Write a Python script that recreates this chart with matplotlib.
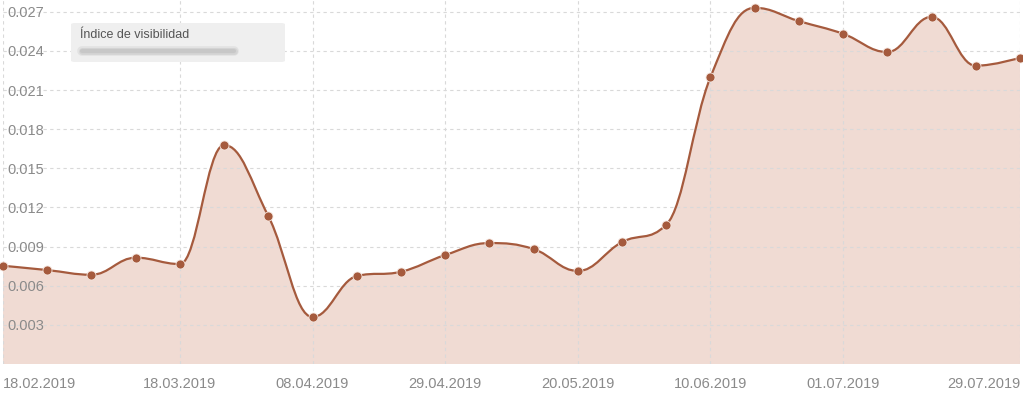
import matplotlib.pyplot as plt
import matplotlib.dates as mdates
import numpy as np
from matplotlib.path import Path
from matplotlib.patches import PathPatch, FancyBboxPatch

plt.rcParams['font.family'] = ['Liberation Sans', 'DejaVu Sans']

# weekly visibility index values
dates = np.arange(np.datetime64('2019-02-18'), np.datetime64('2019-08-05'), np.timedelta64(7, 'D'))
values = [0.00753, 0.00720, 0.00684, 0.00815, 0.00766, 0.01678, 0.01134, 0.00360,
          0.00674, 0.00707, 0.00835, 0.00927, 0.00881, 0.00713, 0.00935, 0.01067,
          0.02199, 0.02730, 0.02628, 0.02531, 0.02391, 0.02661, 0.02286, 0.02347]
tick_dates = ['2019-02-18', '2019-03-18', '2019-04-08', '2019-04-29',
              '2019-05-20', '2019-06-10', '2019-07-01', '2019-07-29']
y_ticks = [0.003, 0.006, 0.009, 0.012, 0.015, 0.018, 0.021, 0.024, 0.027]
legend_title = "Índice de visibilidad"

line_col = "#a55a3d"
fill_col = "#f0dbd3"
text_col = "#8a8a8a"
grid_col = "#d9d9d9"

x = mdates.date2num(dates.astype('datetime64[D]').astype(object))
y = np.array(values)


# Highcharts style spline -> bezier path
def spline_path(xs, ys, smoothing=1.5):
    denom = smoothing + 1
    n = len(xs)
    lc = [(xs[i], ys[i]) for i in range(n)]
    rc = [(xs[i], ys[i]) for i in range(n)]
    for i in range(1, n - 1):
        px, py = xs[i], ys[i]
        lx, ly = xs[i - 1], ys[i - 1]
        nx, ny = xs[i + 1], ys[i + 1]
        lcx = (smoothing * px + lx) / denom
        lcy = (smoothing * py + ly) / denom
        rcx = (smoothing * px + nx) / denom
        rcy = (smoothing * py + ny) / denom
        if rcx != lcx:
            corr = ((rcy - lcy) * (rcx - px)) / (rcx - lcx) + py - rcy
            lcy += corr
            rcy += corr
        if lcy > ly and lcy > py:
            lcy = max(ly, py)
            rcy = 2 * py - lcy
        elif lcy < ly and lcy < py:
            lcy = min(ly, py)
            rcy = 2 * py - lcy
        if rcy > ny and rcy > py:
            rcy = max(ny, py)
            lcy = 2 * py - rcy
        elif rcy < ny and rcy < py:
            rcy = min(ny, py)
            lcy = 2 * py - rcy
        lc[i] = (lcx, lcy)
        rc[i] = (rcx, rcy)
    verts = [(xs[0], ys[0])]
    codes = [Path.MOVETO]
    for i in range(1, n):
        verts += [rc[i - 1], lc[i], (xs[i], ys[i])]
        codes += [Path.CURVE4] * 3
    return verts, codes


fig = plt.figure(figsize=(10.23, 3.94), dpi=100)
ax = fig.add_axes([3 / 1023, 30 / 394, 1017 / 1023, 364 / 394])
ax.set_xlim(x[0], x[-1])
ax.set_ylim(0, 0.0279)

verts, codes = spline_path(x, y)

# filled area
fverts = verts + [(x[-1], 0), (x[0], 0), (x[0], y[0])]
fcodes = codes + [Path.LINETO, Path.LINETO, Path.CLOSEPOLY]
ax.add_patch(PathPatch(Path(fverts, fcodes), facecolor=fill_col, edgecolor='none', zorder=1, clip_on=False))

# line
ax.add_patch(PathPatch(Path(verts, codes), facecolor='none', edgecolor=line_col, lw=1.6, zorder=3, clip_on=False))
ax.plot(x, y, 'o', color=line_col, markersize=6.5, markeredgecolor='#f5e6df', markeredgewidth=0.6,
        zorder=4, clip_on=False)

# grid
ax.set_yticks(y_ticks)
ax.set_yticklabels([f"{v:.3f}" for v in y_ticks])
tick_nums = [mdates.date2num(np.datetime64(d).astype(object)) for d in tick_dates]
ax.set_xticks(tick_nums)
ax.set_xticklabels([np.datetime64(d).astype(object).strftime('%d.%m.%Y') for d in tick_dates])
ax.grid(True, color=grid_col, linestyle=(0, (3, 3)), linewidth=0.8, zorder=2)
ax.set_axisbelow(False)
for sp in ax.spines.values():
    sp.set_visible(False)

ax.tick_params(axis='both', length=0, colors=text_col, labelsize=10.5)
ax.tick_params(axis='y', pad=-3, labelsize=10.5)
for lbl in ax.get_yticklabels():
    lbl.set_horizontalalignment('left')
    lbl.set_zorder(5)
ax.tick_params(axis='x', pad=9)
xl = ax.get_xticklabels()
xl[0].set_horizontalalignment('left')
xl[-1].set_horizontalalignment('right')

# legend box
fig.patches.append(FancyBboxPatch((71 / 1023, 1 - 62 / 394), 214 / 1023, 39 / 394,
                                  boxstyle="round,pad=0,rounding_size=0.004",
                                  transform=fig.transFigure, facecolor='#efefef', edgecolor='none', zorder=6))
fig.text(80 / 1023, 1 - 35 / 394, legend_title, fontsize=9, color='#555555', va='center', ha='left', zorder=7)
for w, a in [(3.5, 0.25), (2.5, 0.35), (1.5, 0.5)]:
    fig.add_artist(plt.Line2D([82 / 1023, 234 / 1023], [1 - 51 / 394] * 2, transform=fig.transFigure,
                              color='#bcbcbc', lw=w * 2, alpha=a, solid_capstyle='round', zorder=7))

fig.savefig("out.png", dpi=100)
